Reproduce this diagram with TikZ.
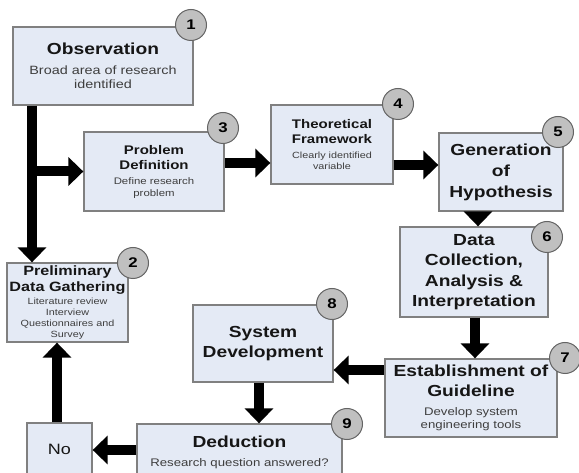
\documentclass[tikz,border=0pt]{standalone}
\usepackage{fontspec}
\setmainfont{Liberation Sans}[FakeStretch=1.2]
\usetikzlibrary{arrows.meta}
\definecolor{fillbox}{RGB}{228, 234, 245}
\definecolor{edgebox}{RGB}{128, 128, 128}
\definecolor{numfill}{RGB}{192, 192, 192}
\definecolor{numedge}{RGB}{100, 100, 100}
\definecolor{ttlclr}{RGB}{22, 22, 22}
\definecolor{subclr}{RGB}{62, 62, 62}
\newcommand{\stagettl}[1]{\fontsize{#1}{#1}\selectfont\bfseries\color{ttlclr}}
\tikzset{
  % Bosqich qutilari
  stagebox/.style = {draw=edgebox, fill=fillbox, line width=1.3pt,
                     inner sep=0pt, align=center, text=subclr},
  % Raqamli doirachalar
  stagenum/.style = {circle, draw=numedge, fill=numfill, line width=1pt,
                     minimum size=31pt, inner sep=0pt,
                     font=\fontsize{14}{14}\selectfont\bfseries},
  % Qalin o'qlar
  flowline/.style = {-{Triangle[width=28pt,length=15pt]}, line width=10pt, black},
}
\begin{document}
\begin{tikzpicture}[x=1pt, y=-1pt]
  \useasboundingbox (0,0) rectangle (579,473);
  \fill[white] (0,0) rectangle (579,473);
  \clip (0,0) rectangle (579,473);
  % qutilar
  \node[stagebox, minimum width=180pt, minimum height=78pt,
        font=\fontsize{12}{14}\selectfont] (obs) at (103,66)
    {{\stagettl{16}Observation}\\[6pt] Broad area of research\\ identified};
  \node[stagebox, minimum width=121pt, minimum height=79pt,
        font=\fontsize{9}{11}\selectfont] (prelim) at (67.5,302.5)
    {{\stagettl{13.5}Preliminary}\\[3pt] {\stagettl{13.5}Data Gathering}\\[2pt]
     Literature review\\ Interview\\ Questionnaires and\\ Survey};
  \node[stagebox, minimum width=140pt, minimum height=79pt,
        font=\fontsize{9.5}{12}\selectfont] (prob) at (154,171.5)
    {{\stagettl{12.5}Problem}\\[3pt] {\stagettl{12.5}Definition}\\[3pt]
     Define research\\ problem};
  \node[stagebox, minimum width=122pt, minimum height=79pt,
        font=\fontsize{9}{10.5}\selectfont] (theo) at (332,144.5)
    {{\stagettl{12.5}Theoretical}\\[4.5pt] {\stagettl{12.5}Framework}\\[4.5pt]
     Clearly identified\\ variable};
  \node[stagebox, minimum width=124pt, minimum height=78pt,
        font=\fontsize{16}{21}\selectfont\bfseries, text=ttlclr] (hyp) at (501,172)
    {Generation\\ of\\ Hypothesis};
  \node[stagebox, minimum width=148pt, minimum height=90pt,
        font=\fontsize{16}{20.5}\selectfont\bfseries, text=ttlclr] (data) at (474,272)
    {Data\\ Collection,\\ Analysis \&\\ Interpretation};
  \node[stagebox, minimum width=172pt, minimum height=78pt,
        font=\fontsize{11}{13}\selectfont] (guide) at (471,398)
    {{\stagettl{16}Establishment of}\\[7pt] {\stagettl{16}Guideline}\\[6pt]
     Develop system\\ engineering tools};
  \node[stagebox, minimum width=140pt, minimum height=77pt,
        font=\fontsize{16}{20}\selectfont\bfseries, text=ttlclr] (sysdev) at (263,343.5)
    {System\\ Development};
  \node[stagebox, minimum width=205pt, minimum height=57pt,
        font=\fontsize{11}{13}\selectfont] (deduct) at (239.5,452.5)
    {{\stagettl{16}Deduction}\\[6pt] Research question answered?};
  \node[stagebox, minimum width=65pt, minimum height=52pt,
        font=\fontsize{15}{15}\selectfont, text=ttlclr] (no) at (59.5,449) {No};
  % o'qlar
  \coordinate (trunk) at (32,0);
  \draw[flowline] (obs.south -| trunk) -- (prelim.north -| trunk);
  \draw[flowline] (trunk |- prob.west) -- (prob.west);
  \draw[flowline] (prob.east |- 0,163) -- (theo.west |- 0,163);
  \draw[flowline] (theo.east |- 0,165) -- (hyp.west |- 0,165);
  \draw[flowline] (hyp.south -| 478,0) -- (data.north -| 478,0);
  \draw[flowline] (data.south -| 475,0) -- (guide.north -| 475,0);
  \draw[flowline] (guide.west |- 0,370) -- (sysdev.east |- 0,370);
  \draw[flowline] (sysdev.south -| 259,0) -- (deduct.north -| 259,0);
  \draw[flowline] (deduct.west |- 0,450) -- (no.east |- 0,450);
  \draw[flowline] (no.north -| 57,0) -- (prelim.south -| 57,0);
  % raqamlar
  \node[stagenum] (n1) at (191,25) {1};
  \node[stagenum] (n2) at (133,263) {2};
  \node[stagenum] (n3) at (223,128) {3};
  \node[stagenum] (n4) at (398,104) {4};
  \node[stagenum] (n5) at (558,132) {5};
  \node[stagenum] (n6) at (547,237) {6};
  \node[stagenum] (n7) at (565,358) {7};
  \node[stagenum] (n8) at (332,304) {8};
  \node[stagenum] (n9) at (347,424) {9};
\end{tikzpicture}
\end{document}
